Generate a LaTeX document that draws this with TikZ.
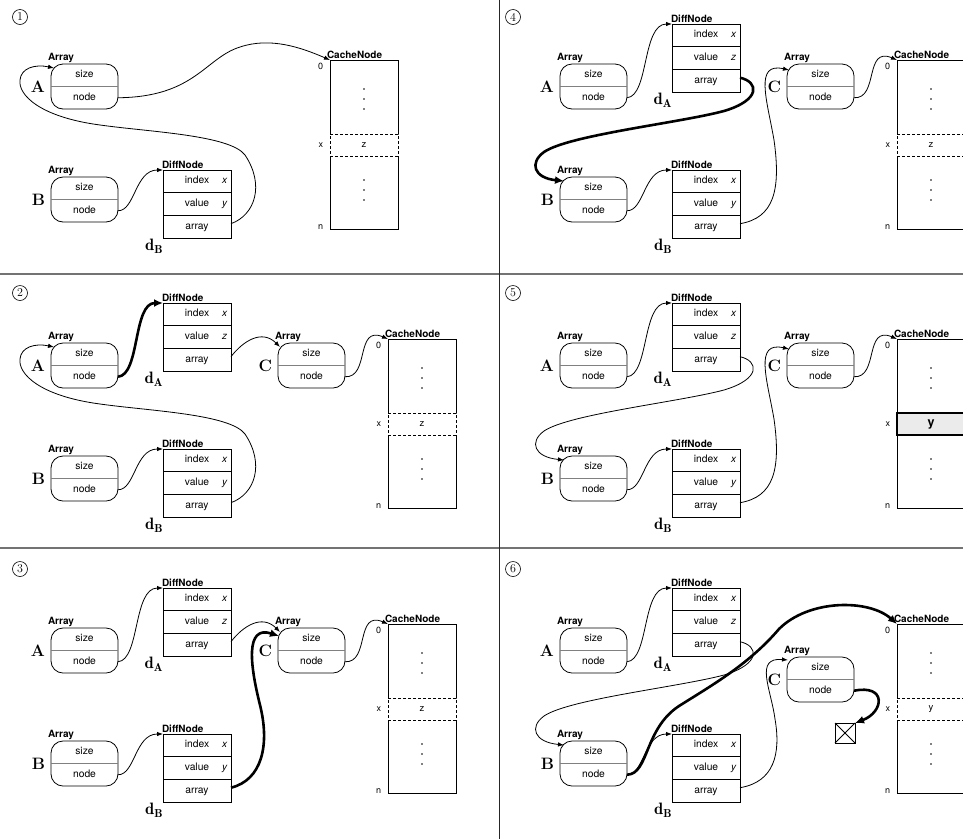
\documentclass[tikz,border=0pt]{standalone}
\usepackage{fontspec}
\setsansfont{TeX Gyre Heros}
\usetikzlibrary{arrows.meta}

\tikzset{
  arrbox/.style={draw, line width=0.8pt, rounded corners=12pt, minimum width=67pt, minimum height=45pt, inner sep=0pt, outer sep=0pt},
  divline/.style={draw=black!50, line width=1pt},
  fieldtxt/.style={font=\sffamily\fontsize{10.3}{12}\selectfont, minimum width=67pt, minimum height=22.5pt, inner sep=0pt, outer sep=0pt, text height=7.2pt, text depth=2pt},
  tinylbl/.style={font=\sffamily\bfseries\fontsize{10}{12}\selectfont, inner sep=0pt, outer sep=0pt},
  biglbl/.style={font=\bfseries\fontsize{16.5}{18}\selectfont, inner sep=0pt, outer sep=0pt},
  drow/.style={draw, line width=0.8pt, font=\sffamily\fontsize{10.3}{12}\selectfont, minimum width=68pt, minimum height=22.67pt, inner sep=0pt, outer sep=0pt, text height=7.2pt, text depth=2pt},
  dval/.style={font=\sffamily\itshape\fontsize{10}{12}\selectfont, inner sep=0pt, outer sep=0pt},
  cachebox/.style={minimum width=68pt, minimum height=169pt, inner sep=0pt, outer sep=0pt},
  cacheline/.style={line width=0.8pt},
  cellplain/.style={draw, line width=0.8pt, dash pattern=on 3pt off 2pt, minimum width=68pt, minimum height=22pt, inner sep=0pt, outer sep=0pt, font=\sffamily\fontsize{9.5}{11}\selectfont},
  cellhot/.style={draw, line width=2.2pt, fill=black!8, minimum width=68pt, minimum height=22pt, inner sep=0pt, outer sep=0pt, font=\sffamily\bfseries\fontsize{12.5}{14}\selectfont},
  idx/.style={font=\sffamily\fontsize{9}{11}\selectfont, inner sep=0pt, outer sep=0pt},
  circnum/.style={circle, draw, line width=0.6pt, minimum size=15pt, inner sep=0pt, font=\fontsize{12}{12}\selectfont},
  link/.style={line width=0.8pt, -{Latex[length=6pt,width=4.5pt]}},
  thicklink/.style={line width=2.6pt, -{Latex[length=9pt,width=8pt]}},
  xbox/.style={draw, line width=0.8pt, minimum width=20pt, minimum height=20pt, inner sep=0pt, outer sep=0pt},
  sepline/.style={draw=black!55, line width=1.2pt},
  vsepline/.style={draw=black!85, line width=0.8pt},
}

\newcommand\ArrBox[4]{%
  \node[arrbox, anchor=north west] (#1) at (#2,#3) {};
  \draw[divline] (#1.west) -- (#1.east);
  \node[fieldtxt, anchor=north] (#1s) at (#1.north) {size};
  \node[fieldtxt, anchor=south] (#1n) at (#1.south) {node};
  \node[tinylbl, anchor=south west] (#1t) at ([xshift=-3pt,yshift=1.5pt]#1.north west) {Array};
  \node[biglbl, anchor=east] (#1L) at ([xshift=-6pt]#1.west) {#4};
}
\newcommand\DiffBox[5]{%
  \node[drow, anchor=north west] (#1i) at (#2,#3) {index};
  \node[drow, anchor=north] (#1v) at (#1i.south) {value};
  \node[drow, anchor=north] (#1a) at (#1v.south) {array};
  \node[dval, anchor=base east] (#1ix) at ([xshift=-4pt]#1i.base east) {x};
  \node[dval, anchor=base east] (#1vx) at ([xshift=-4pt]#1v.base east) {#4};
  \node[tinylbl, anchor=south west] (#1t) at ([xshift=-1pt,yshift=1.5pt]#1i.north west) {DiffNode};
  \node[biglbl, anchor=north east] (#1L) at ([yshift=-1pt]#1a.south west) {$\mathbf{d_{#5}}$};
}
\newcommand\CacheBox[5]{%
  \node[cachebox, anchor=north west] (#1) at (#2,#3) {};
  \draw[cacheline] ([yshift=-74pt]#1.north west) -- (#1.north west) -- (#1.north east) -- ([yshift=-74pt]#1.north east);
  \draw[cacheline] ([yshift=-96pt]#1.north west) -- (#1.south west) -- (#1.south east) -- ([yshift=-96pt]#1.north east);
  \node[#5, anchor=north west] (#1c) at ([yshift=-74pt]#1.north west) {#4};
  \foreach \dy in {29,39,49,120,130,140} \fill ([xshift=34pt,yshift=-\dy pt]#1.north west) circle (0.9pt);
  \node[idx, anchor=east] (#1z) at ([xshift=-7pt,yshift=-6pt]#1.north west) {0};
  \node[idx, anchor=east] (#1m) at ([xshift=-7pt]#1c.west) {x};
  \node[idx, anchor=east] (#1e) at ([xshift=-7pt,yshift=2pt]#1.south west) {n};
  \node[tinylbl, anchor=south west] (#1t) at ([xshift=-3pt,yshift=1.5pt]#1.north west) {CacheNode};
}

\begin{document}
\begin{tikzpicture}[x=1pt,y=-1pt]
\useasboundingbox (0,0) rectangle (963,839);
\fill[white] (0,0) rectangle (963,839);

% separators
\draw[sepline] (0,274) -- (963,274);
\draw[sepline] (0,548) -- (963,548);
\draw[vsepline] (499,0) -- (499,839);

% step numbers
\node[circnum] (n1) at (20,17) {1};
\node[circnum] (n2) at (20,293) {2};
\node[circnum] (n3) at (20,569) {3};
\node[circnum] (n4) at (513,17) {4};
\node[circnum] (n5) at (513,293) {5};
\node[circnum] (n6) at (513,569) {6};

% ---------- panel 1 ----------
\begin{scope}
\ArrBox{aA}{51}{64}{A}
\ArrBox{aB}{51}{177}{B}
\DiffBox{aD}{163}{170}{y}{B}
\CacheBox{aK}{330}{60}{z}{cellplain}
\draw[link] (aAn.east) .. controls (195,97) and (205,58) .. (240,47) .. controls (270,37) and (300,47) .. (aK.north west);
\draw[link] (aBn.east) .. controls (135,211) and (135,170) .. (aDi.north west);
\draw[link] ([yshift=3pt]aDa.east) .. controls (255,215) and (265,185) .. (245,155) .. controls (230,135) and (150,132) .. (100,125) .. controls (40,117) and (18,95) .. (20,80) .. controls (21,68) and (35,64) .. ([xshift=3pt,yshift=-4pt]aA.north west);
\end{scope}

% ---------- panel 2 ----------
\begin{scope}[shift={(0,279)}]
\ArrBox{bA}{51}{64}{A}
\DiffBox{bE}{163}{24}{z}{A}
\ArrBox{bC}{278}{64}{C}
\CacheBox{bK}{388}{60}{z}{cellplain}
\ArrBox{bB}{51}{177}{B}
\DiffBox{bD}{163}{170}{y}{B}
\draw[thicklink] (bAn.east) .. controls (140,96) and (133,24) .. (bEi.north west);
\draw[link] ([yshift=3pt]bEa.east) .. controls (243,62) and (262,50) .. ([xshift=2pt,yshift=-4pt]bC.north west);
\draw[link] (bCn.east) .. controls (370,99) and (355,46) .. (bK.north west);
\draw[link] (bBn.east) .. controls (135,211) and (135,170) .. (bDi.north west);
\draw[link] ([yshift=3pt]bDa.east) .. controls (255,215) and (265,185) .. (245,155) .. controls (230,135) and (150,132) .. (100,125) .. controls (40,117) and (18,95) .. (20,80) .. controls (21,68) and (35,64) .. ([xshift=3pt,yshift=-4pt]bA.north west);
\end{scope}

% ---------- panel 3 ----------
\begin{scope}[shift={(0,564)}]
\ArrBox{cA}{51}{64}{A}
\DiffBox{cE}{163}{24}{z}{A}
\ArrBox{cC}{278}{64}{C}
\CacheBox{cK}{388}{60}{z}{cellplain}
\ArrBox{cB}{51}{177}{B}
\DiffBox{cD}{163}{170}{y}{B}
\draw[link] (cAn.east) .. controls (140,96) and (133,24) .. (cEi.north west);
\draw[link] ([yshift=3pt]cEa.east) .. controls (243,62) and (262,50) .. ([xshift=2pt,yshift=-4pt]cC.north west);
\draw[link] (cCn.east) .. controls (370,99) and (355,46) .. (cK.north west);
\draw[link] (cBn.east) .. controls (135,211) and (135,170) .. (cDi.north west);
\draw[thicklink] ([yshift=3pt]cDa.east) .. controls (262,216) and (270,181) .. (260,141) .. controls (250,101) and (245,61) .. ([xshift=1pt,yshift=-8pt]cC.north west);
\end{scope}

% ---------- panel 4 ----------
\begin{scope}[shift={(509,0)}]
\ArrBox{dA}{51}{64}{A}
\DiffBox{dE}{163}{24}{z}{A}
\ArrBox{dC}{278}{64}{C}
\CacheBox{dK}{388}{60}{z}{cellplain}
\ArrBox{dB}{51}{177}{B}
\DiffBox{dD}{163}{170}{y}{B}
\draw[link] (dAn.east) .. controls (140,96) and (133,24) .. (dEi.north west);
\draw[thicklink] ([yshift=3pt]dEa.east) .. controls (250,82) and (252,100) .. (215,111) .. controls (170,123) and (60,135) .. (35,152) .. controls (20,163) and (25,178) .. ([xshift=4pt,yshift=-4pt]dB.north west);
\draw[link] (dBn.east) .. controls (135,211) and (135,170) .. (dDi.north west);
\draw[link] ([yshift=3pt]dDa.east) .. controls (265,218) and (272,190) .. (265,140) .. controls (258,100) and (245,62) .. ([xshift=2pt,yshift=-6pt]dC.north west);
\draw[link] (dCn.east) .. controls (370,99) and (355,46) .. (dK.north west);
\end{scope}

% ---------- panel 5 ----------
\begin{scope}[shift={(509,279)}]
\ArrBox{eA}{51}{64}{A}
\DiffBox{eE}{163}{24}{z}{A}
\ArrBox{eC}{278}{64}{C}
\CacheBox{eK}{388}{60}{y}{cellhot}
\ArrBox{eB}{51}{177}{B}
\DiffBox{eD}{163}{170}{y}{B}
\draw[link] (eAn.east) .. controls (140,96) and (133,24) .. (eEi.north west);
\draw[link] ([yshift=3pt]eEa.east) .. controls (250,82) and (252,100) .. (215,111) .. controls (170,123) and (60,135) .. (35,152) .. controls (20,163) and (25,178) .. ([xshift=4pt,yshift=-4pt]eB.north west);
\draw[link] (eBn.east) .. controls (135,211) and (135,170) .. (eDi.north west);
\draw[link] ([yshift=3pt]eDa.east) .. controls (265,218) and (272,190) .. (265,140) .. controls (258,100) and (245,62) .. ([xshift=2pt,yshift=-6pt]eC.north west);
\draw[link] (eCn.east) .. controls (370,99) and (355,46) .. (eK.north west);
\end{scope}

% ---------- panel 6 ----------
\begin{scope}[shift={(509,564)}]
\ArrBox{fA}{51}{64}{A}
\DiffBox{fE}{163}{24}{z}{A}
\ArrBox{fC}{278}{93}{C}
\CacheBox{fK}{388}{60}{y}{cellplain}
\ArrBox{fB}{51}{177}{B}
\DiffBox{fD}{163}{170}{y}{B}
\node[xbox, anchor=north west] (fX) at (326,159) {};
\draw[line width=0.8pt] (fX.north west) -- (fX.south east) (fX.north east) -- (fX.south west);
\draw[link] (fAn.east) .. controls (140,96) and (133,24) .. (fEi.north west);
\draw[link] ([yshift=3pt]fEa.east) .. controls (250,82) and (252,100) .. (215,111) .. controls (170,123) and (60,135) .. (35,152) .. controls (20,163) and (25,178) .. ([xshift=4pt,yshift=-4pt]fB.north west);
\draw[link] (fBn.east) .. controls (135,211) and (135,170) .. (fDi.north west);
\draw[link] ([yshift=3pt]fDa.east) .. controls (265,218) and (272,190) .. (266,155) .. controls (262,125) and (245,93) .. ([xshift=1pt,yshift=-3pt]fC.north west);
\draw[thicklink] (fBn.east) .. controls (140,210) and (135,165) .. (170,142) .. controls (205,120) and (240,100) .. (270,65) .. controls (300,35) and (360,35) .. (fK.north west);
\draw[thicklink] (fCn.east) .. controls (378,120) and (375,148) .. (fX.north east);
\end{scope}
\end{tikzpicture}
\end{document}
